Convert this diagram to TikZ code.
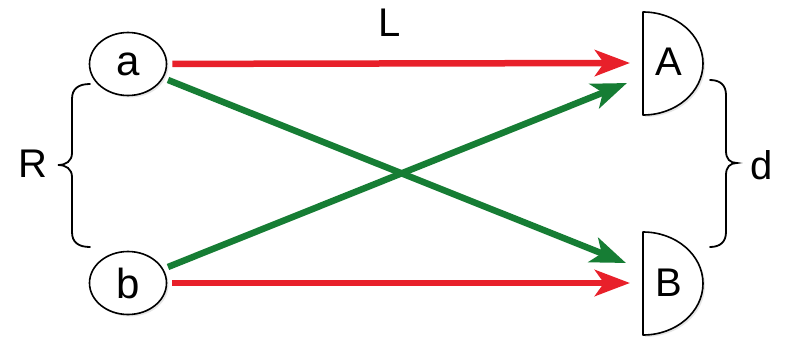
\documentclass[tikz,border=0pt]{standalone}
\usepackage{fontspec}
\setmainfont{Liberation Sans}
\usetikzlibrary{arrows.meta,shapes.geometric,shadows}
\definecolor{arrred}{RGB}{232,32,42}
\definecolor{arrgreen}{RGB}{22,125,52}
\begin{document}
\begin{tikzpicture}[x=1pt,y=1pt,
  lbl/.style={font=\fontsize{40}{40}\selectfont, inner sep=0pt},
  src/.style={ellipse, draw, line width=1.6pt, fill=white, minimum width=77pt, minimum height=63pt, inner sep=0pt, font=\fontsize{42}{42}\selectfont,
     drop shadow={opacity=0.2, shadow xshift=2pt, shadow yshift=-2pt}},
  det/.style={draw, line width=1.6pt, fill=white, line join=round,
     drop shadow={opacity=0.2, shadow xshift=2pt, shadow yshift=-2pt}},
  ray/.style={line width=6.5pt, -{Stealth[length=35pt, width=26pt, inset=9pt]}, shorten <=5pt},
  bracepath/.style={line width=1.8pt, line cap=round}
]
\useasboundingbox (0,0) rectangle (787,341);
% sources
\node[src] (a) at (128,277) {a};
\node[src] (b) at (128,58) {b};
% detectors
\draw[det] (643,226) -- (643,329) arc[start angle=90, end angle=-90, x radius=60, y radius=51.5] -- cycle;
\draw[det] (643,6) -- (643,109) arc[start angle=90, end angle=-90, x radius=60, y radius=51.5] -- cycle;
\node[lbl] (A) at (669,279) {A};
\node[lbl] (B) at (669,58) {B};
% arrow tips
\coordinate (tAr) at (630,278);
\coordinate (tAg) at (627,258);
\coordinate (tBr) at (630,58);
\coordinate (tBg) at (626,78);
% rays
\draw[ray, arrred] (a) -- (tAr);
\draw[ray, arrred] (b) -- (tBr);
\draw[ray, arrgreen] (a) -- (tBg);
\draw[ray, arrgreen] (b) -- (tAg);
% labels
\node[lbl] (L) at (390,318) {L};
\node[lbl] (R) at (33,177) {R};
\node[lbl] (d) at (762,176) {d};
% braces
\draw[bracepath] (90,257) .. controls (78,257) and (72,252) .. (72,242) -- (72,188)
  .. controls (72,180) and (66,176) .. (58,176) .. controls (66,176) and (72,172) .. (72,164)
  -- (72,109) .. controls (72,99) and (78,94) .. (90,94);
\draw[bracepath] (710,261) .. controls (720,261) and (726,256) .. (726,246) -- (726,190)
  .. controls (726,182) and (730,178) .. (737,178) .. controls (730,178) and (726,174) .. (726,166)
  -- (726,109) .. controls (726,99) and (720,94) .. (710,94);
\end{tikzpicture}
\end{document}
